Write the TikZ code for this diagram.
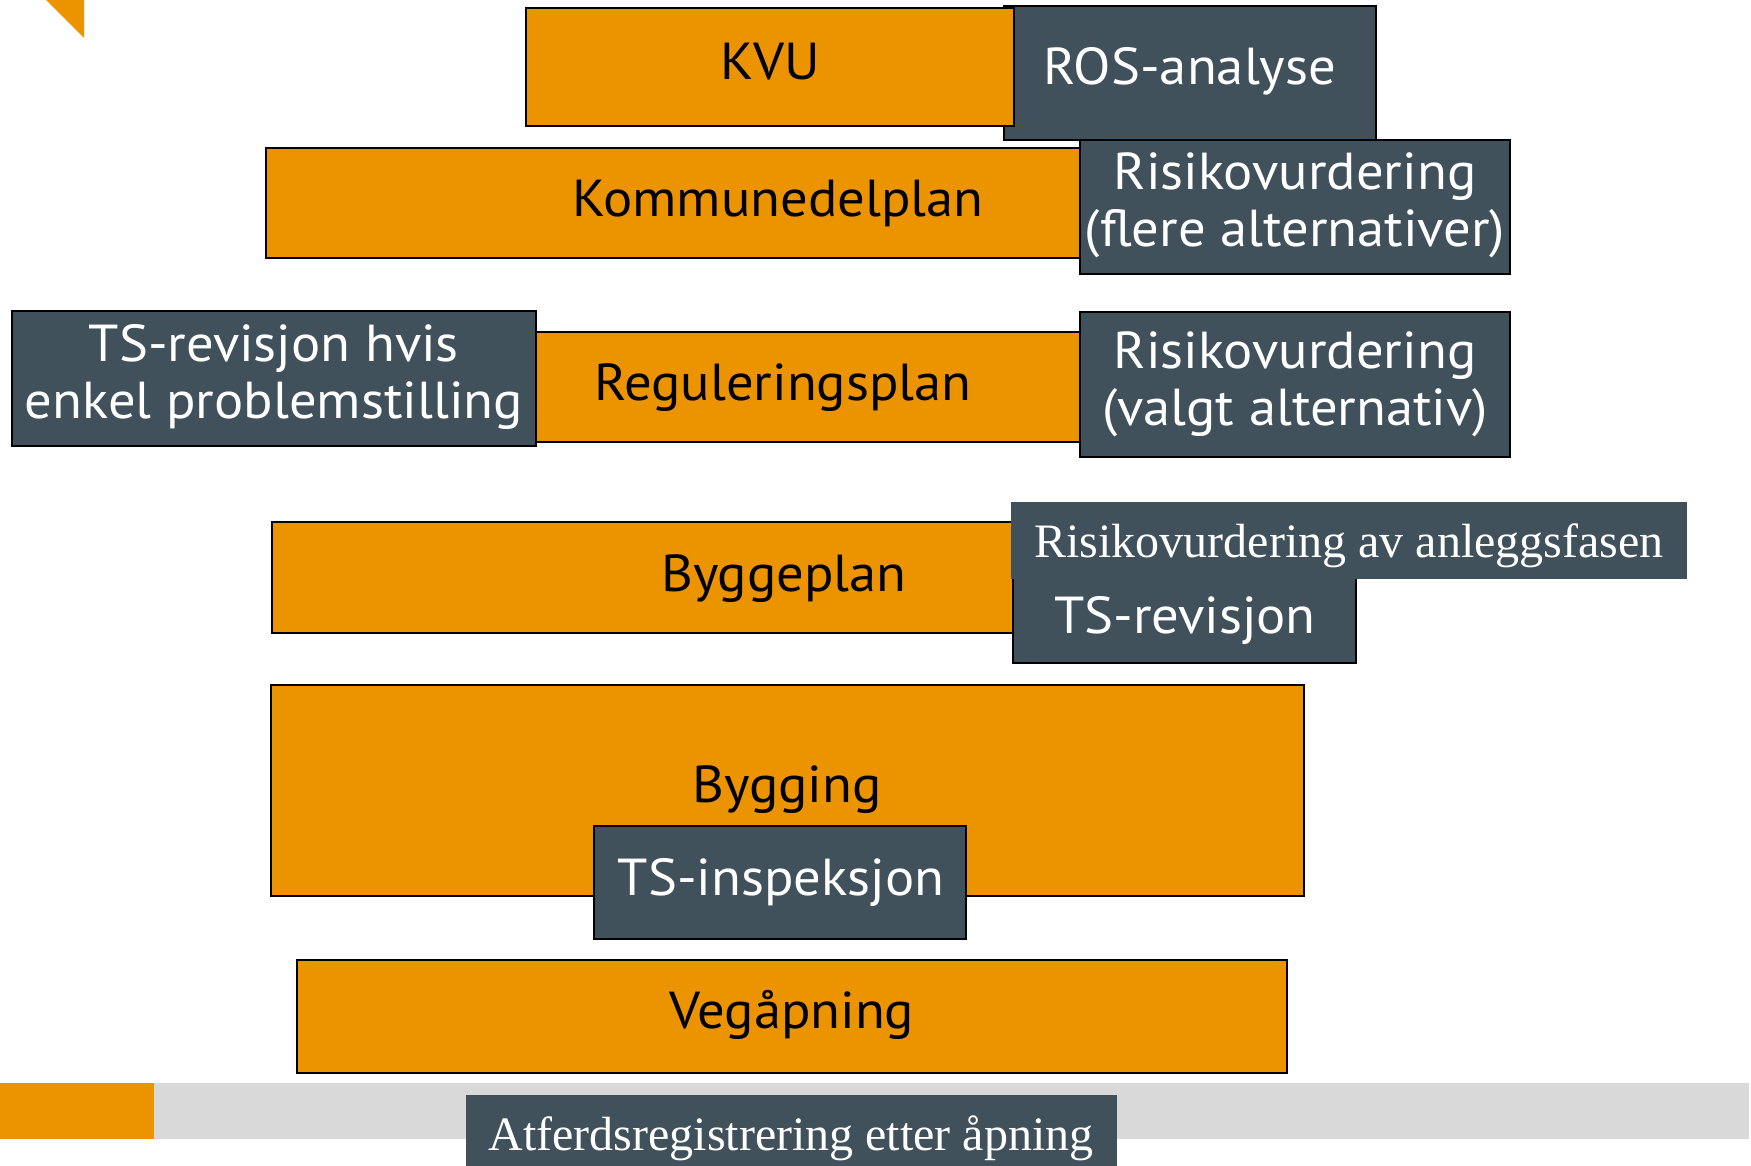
\documentclass[tikz,border=0pt]{standalone}
\usepackage{fontspec}
\newfontfamily\boxsans[FakeStretch=1.05]{PT Sans}
\newfontfamily\boxserif{Liberation Serif}
\definecolor{phaseorange}{RGB}{236,148,0}
\definecolor{slate}{RGB}{64,81,92}
\definecolor{bargray}{RGB}{217,217,217}
\begin{document}
\begin{tikzpicture}[x=1pt,y=-1pt,
  obox/.style={fill=phaseorange,draw=black,line width=2.5pt},
  dbox/.style={fill=slate,draw=black,line width=2.5pt},
  otext/.style={anchor=base,inner sep=0pt,text=black,font=\boxsans\fontsize{52}{57}\selectfont},
  dtext/.style={anchor=base,inner sep=0pt,text=white,align=center,font=\boxsans\fontsize{52}{57}\selectfont},
  stext/.style={anchor=base,inner sep=0pt,text=white,font=\boxserif\fontsize{48}{54}\selectfont}]
\useasboundingbox (0,0) rectangle (1751,1166);
\begin{scope}
\clip (0,0) rectangle (1751,1166);
% corner mark
\fill[phaseorange] (46,0) -- (84,0) -- (84,38) -- cycle;
% bottom bar
\fill[bargray] (154,1083) rectangle (1749,1139);
\fill[phaseorange] (0,1083) rectangle (154,1139);
% KVU row
\draw[dbox] (1004,6) rectangle (1376,140);
\node[dtext] (ros) at (1190,85) {ROS-analyse};
\draw[obox] (526,8) rectangle (1014,126);
\node[otext] (kvu) at (770,80) {KVU};
% Kommunedelplan row
\draw[obox] (266,148) rectangle (1300,258);
\node[otext] (kdp) at (778,217) {Kommunedelplan};
\draw[dbox] (1080,140) rectangle (1510,274);
\node[dtext] (rflere) at (1295,247) {Risikovurdering\\(flere alternativer)};
% Reguleringsplan row
\draw[obox] (266,332) rectangle (1300,442);
\node[otext] (reg) at (783,400) {Reguleringsplan};
\draw[dbox] (12,311) rectangle (536,446);
\node[dtext] (tshvis) at (274,418) {TS-revisjon hvis\\enkel problemstilling};
\draw[dbox] (1080,312) rectangle (1510,457);
\node[dtext] (rvalgt) at (1295,425) {Risikovurdering\\(valgt alternativ)};
% Byggeplan row
\draw[obox] (272,522) rectangle (1300,633);
\node[otext] (bygg) at (784,591) {Byggeplan};
\draw[dbox] (1013,570) rectangle (1356,663);
\node[dtext] (tsrev) at (1185,633) {TS-revisjon};
\fill[slate] (1011,502) rectangle (1687,579);
\node[stext] (ranl) at (1349,557) {Risikovurdering av anleggsfasen};
% Bygging
\draw[obox] (271,685) rectangle (1304,896);
\node[otext] (bygging) at (787,802) {Bygging};
\draw[dbox] (594,826) rectangle (966,939);
\node[dtext] (tsinsp) at (781,895) {TS-inspeksjon};
% Vegaapning
\draw[obox] (297,960) rectangle (1287,1073);
\node[otext] (veg) at (792,1028) {Vegåpning};
% Atferdsregistrering
\fill[slate] (466,1095) rectangle (1117,1180);
\node[stext] (atf) at (791,1150) {Atferdsregistrering etter åpning};
\end{scope}
\end{tikzpicture}
\end{document}
